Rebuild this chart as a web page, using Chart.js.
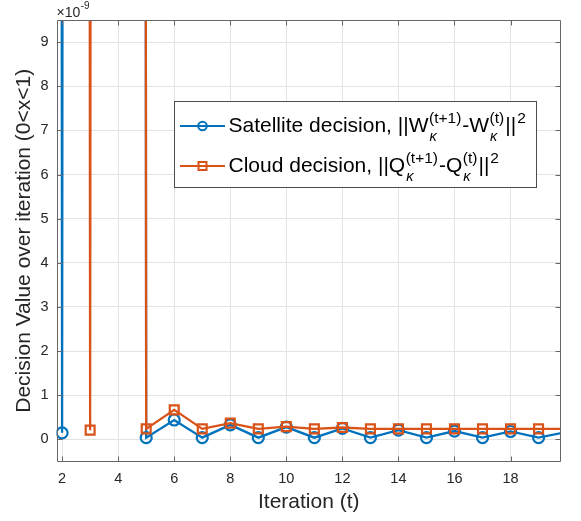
<!DOCTYPE html>
<html>
<head>
<meta charset="utf-8">
<script src="https://cdn.jsdelivr.net/npm/chart.js@4.4.1/dist/chart.umd.min.js"></script>
<style>
  html, body { margin: 0; padding: 0; background: #ffffff; }
  #wrap { width: 581px; height: 521px; }
</style>
</head>
<body>
<div id="wrap"><canvas id="chart" width="581" height="521"></canvas></div>
<script>
// ---- data (values in units of 1e-9) ----
const yExponent = -9;
const iterations = [1, 2, 3, 4, 5, 6, 7, 8, 9, 10, 11, 12, 13, 14, 15, 16, 17, 18, 19, 20];
const satelliteValues = [5000, 0.15, 5000, 5000, 0.04, 0.44, 0.04, 0.33, 0.04, 0.28, 0.04, 0.25, 0.04, 0.21, 0.04, 0.19, 0.04, 0.18, 0.04, 0.17];
const cloudValues = [5000, 5000, 0.21, 5000, 0.24, 0.67, 0.24, 0.37, 0.24, 0.29, 0.24, 0.27, 0.24, 0.24, 0.24, 0.24, 0.24, 0.24, 0.24, 0.24];
const xTickValues = [2, 4, 6, 8, 10, 12, 14, 16, 18];
const yTickValues = [0, 1, 2, 3, 4, 5, 6, 7, 8, 9];
const seriesNames = ['Satellite decision, ||W_κ^(t+1)-W_κ^(t)||^2', 'Cloud decision, ||Q_κ^(t+1)-Q_κ^(t)||^2'];
const xTitle = 'Iteration (t)';
const yTitle = 'Decision Value over iteration (0<x<1)';

const BLUE = '#0072BD';
const ORANGE = '#D95319';
const TXT = '#262626';
const FONT = '"Liberation Sans", Arial, Helvetica, sans-serif';

const toPoints = (ys) => iterations.map((x, i) => ({ x: x, y: ys[i] }));

// legend rich text pieces
const legendRows = [
  { color: BLUE, style: 'circle', parts: [
    { t: 'n', s: 'Satellite decision, ||W' }, { t: 'ss', sup: '(t+1)', sub: 'κ' },
    { t: 'n', s: '-W' }, { t: 'ss', sup: '(t)', sub: 'κ' }, { t: 'n', s: '||' }, { t: 'sup', s: '2' } ] },
  { color: ORANGE, style: 'rect', parts: [
    { t: 'n', s: 'Cloud decision, ||Q' }, { t: 'ss', sup: '(t+1)', sub: 'κ' },
    { t: 'n', s: '-Q' }, { t: 'ss', sup: '(t)', sub: 'κ' }, { t: 'n', s: '||' }, { t: 'sup', s: '2' } ] }
];

const frameAndLegend = {
  id: 'frameAndLegend',
  afterDatasetsDraw(chart) {
    const ctx = chart.ctx;
    const a = chart.chartArea;
    const xs = chart.scales.x, ys = chart.scales.y;
    ctx.save();
    // axes box
    ctx.strokeStyle = '#666666';
    ctx.lineWidth = 1;
    const L = Math.round(a.left) + 0.5, R = Math.round(a.right) - 0.5;
    const T = Math.round(a.top) + 0.5, B = Math.round(a.bottom) - 0.5;
    ctx.beginPath();
    ctx.rect(L, T, R - L, B - T);
    ctx.stroke();
    // inward ticks
    const tl = 5;
    ctx.beginPath();
    xTickValues.forEach(v => {
      const px = Math.round(xs.getPixelForValue(v)) + 0.5;
      ctx.moveTo(px, B); ctx.lineTo(px, B - tl);
      ctx.moveTo(px, T); ctx.lineTo(px, T + tl);
    });
    yTickValues.forEach(v => {
      const py = Math.round(ys.getPixelForValue(v)) + 0.5;
      ctx.moveTo(L, py); ctx.lineTo(L + tl, py);
      ctx.moveTo(R, py); ctx.lineTo(R - tl, py);
    });
    ctx.stroke();

    // exponent label
    ctx.fillStyle = TXT;
    ctx.textBaseline = 'alphabetic';
    ctx.textAlign = 'left';
    ctx.font = '14px ' + FONT;
    const expX = a.left;
    ctx.fillText('×10', expX, 16.5);
    const w10 = ctx.measureText('×10').width;
    ctx.font = '10px ' + FONT;
    ctx.fillText(String(yExponent), expX + w10 + 0.5, 8.5);

    // legend box
    const bx = 174.5, by = 101.5, bw = 362, bh = 86;
    ctx.fillStyle = '#ffffff';
    ctx.fillRect(bx, by, bw, bh);
    ctx.strokeStyle = '#4d4d4d';
    ctx.lineWidth = 1;
    ctx.strokeRect(bx, by, bw, bh);

    const rowsY = [126, 166];
    const baseY = [131.7, 171.7];
    legendRows.forEach((row, i) => {
      const ly = rowsY[i];
      ctx.strokeStyle = row.color;
      ctx.lineWidth = 2;
      ctx.beginPath(); ctx.moveTo(180, ly); ctx.lineTo(225, ly); ctx.stroke();
      ctx.beginPath();
      if (row.style === 'circle') {
        ctx.arc(202.5, ly, 4.3, 0, Math.PI * 2);
      } else {
        ctx.rect(202.5 - 4, ly - 4, 8, 8);
      }
      ctx.stroke();

      // rich text
      let cx = 228.5;
      const by0 = baseY[i];
      ctx.fillStyle = '#000000';
      row.parts.forEach(p => {
        if (p.t === 'n') {
          ctx.font = '21px ' + FONT;
          ctx.fillText(p.s, cx, by0);
          cx += ctx.measureText(p.s).width;
        } else if (p.t === 'sup') {
          ctx.font = '15.5px ' + FONT;
          ctx.fillText(p.s, cx + 1, by0 - 8.5);
          cx += ctx.measureText(p.s).width + 1;
        } else {
          ctx.font = '15.5px ' + FONT;
          ctx.fillText(p.sup, cx + 0.5, by0 - 8.5);
          const w1 = ctx.measureText(p.sup).width;
          ctx.font = 'italic 14.5px ' + FONT;
          ctx.fillText(p.sub, cx + 1, by0 + 9.5);
          const w2 = ctx.measureText(p.sub).width;
          cx += Math.max(w1, w2) + 1.5;
        }
      });
    });
    ctx.restore();
  }
};

const chart = new Chart(document.getElementById('chart'), {
  type: 'line',
  data: {
    datasets: [
      {
        label: seriesNames[0],
        data: toPoints(satelliteValues),
        borderColor: BLUE,
        backgroundColor: BLUE,
        borderWidth: 2.3,
        pointStyle: 'circle',
        pointRadius: 5.5,
        pointBorderWidth: 2.2,
        pointBackgroundColor: 'rgba(0,0,0,0)',
        pointBorderColor: BLUE,
        tension: 0,
        clip: 0,
        order: 1
      },
      {
        label: seriesNames[1],
        data: toPoints(cloudValues),
        borderColor: ORANGE,
        backgroundColor: ORANGE,
        borderWidth: 2.3,
        pointStyle: 'rect',
        pointRadius: 6.3,
        pointBorderWidth: 2.2,
        pointBackgroundColor: 'rgba(0,0,0,0)',
        pointBorderColor: ORANGE,
        tension: 0,
        clip: 0,
        order: 0
      }
    ]
  },
  options: {
    responsive: false,
    animation: false,
    devicePixelRatio: 1,
    layout: { padding: { left: 0, top: 20, right: 20, bottom: 0 } },
    plugins: {
      legend: { display: false },
      tooltip: { enabled: false }
    },
    scales: {
      x: {
        type: 'linear',
        min: 1.8,
        max: 19.8,
        afterBuildTicks: (s) => { s.ticks = xTickValues.map(v => ({ value: v })); },
        afterFit: (s) => { s.height = 59.5; },
        ticks: {
          color: TXT,
          font: { family: FONT, size: 14.5 },
          padding: 9,
          maxRotation: 0,
          autoSkip: false,
          callback: (v) => String(v)
        },
        grid: { color: '#e3e3e3', lineWidth: 1, drawTicks: false },
        border: { display: false },
        title: {
          display: true,
          text: xTitle,
          color: TXT,
          font: { family: FONT, size: 21 },
          padding: { top: 0, bottom: 6 }
        }
      },
      y: {
        type: 'linear',
        min: -0.5,
        max: 9.5,
        afterBuildTicks: (s) => { s.ticks = yTickValues.map(v => ({ value: v })); },
        afterFit: (s) => { s.width = 56.5; },
        ticks: {
          color: TXT,
          font: { family: FONT, size: 14.5 },
          padding: 8,
          autoSkip: false,
          callback: (v) => String(v)
        },
        grid: { color: '#e3e3e3', lineWidth: 1, drawTicks: false },
        border: { display: false },
        title: {
          display: true,
          text: yTitle,
          color: TXT,
          font: { family: FONT, size: 21 },
          padding: { top: 12, bottom: 0 }
        }
      }
    }
  },
  plugins: [frameAndLegend]
});
</script>
</body>
</html>
